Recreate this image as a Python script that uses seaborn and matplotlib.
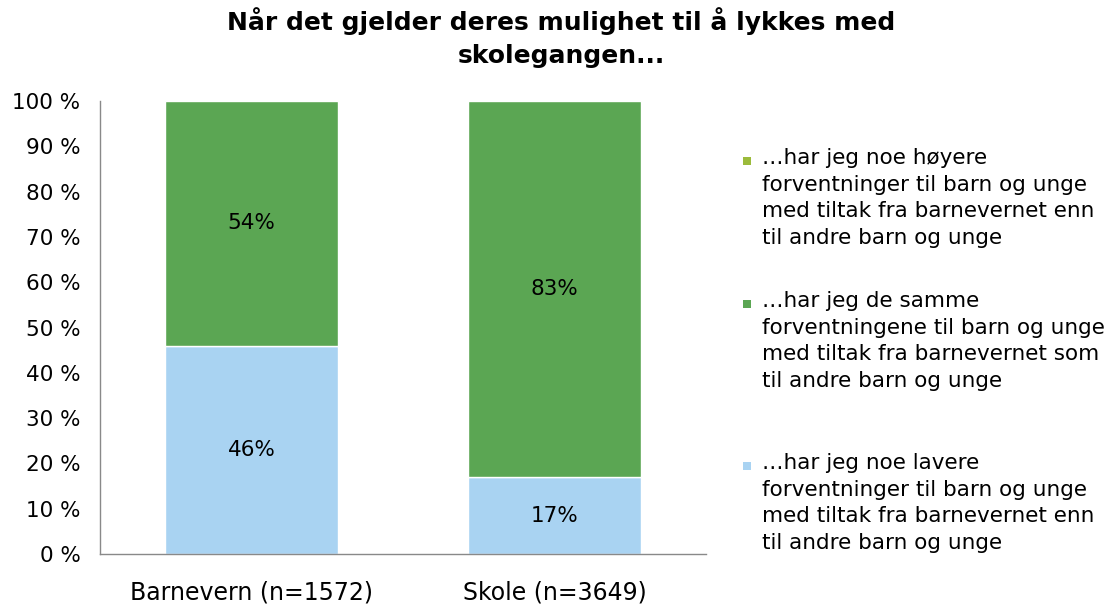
import matplotlib
matplotlib.use("Agg")
import matplotlib.pyplot as plt
import seaborn as sns
import pandas as pd
import numpy as np
from matplotlib.patches import Rectangle

# Data
categories = ["Barnevern (n=1572)", "Skole (n=3649)"]
lavere = [46, 17]
samme = [54, 83]
hoyere = [0, 0]

legend_labels = [
    "…har jeg noe høyere\nforventninger til barn og unge\nmed tiltak fra barnevernet enn\ntil andre barn og unge",
    "…har jeg de samme\nforventningene til barn og unge\nmed tiltak fra barnevernet som\ntil andre barn og unge",
    "…har jeg noe lavere\nforventninger til barn og unge\nmed tiltak fra barnevernet enn\ntil andre barn og unge",
]
col_hoyere = "#9BBB3B"
col_samme = "#5BA653"
col_lavere = "#A9D3F2"

sns.set_style("white")
plt.rcParams["font.family"] = ["DejaVu Sans"]
plt.rcParams["text.color"] = "black"
plt.rcParams["xtick.color"] = "black"
plt.rcParams["ytick.color"] = "black"

df = pd.DataFrame({"kategori": categories, "lavere": lavere,
                   "samme": samme, "hoyere": hoyere})

fig = plt.figure(figsize=(11.14, 6.06), dpi=100)
ax = fig.add_axes([0.0898, 0.0858, 0.544, 0.7475])

width = 0.57
sns.barplot(data=df, x="kategori", y="lavere", color=col_lavere, width=width,
            edgecolor="white", linewidth=1, saturation=1, ax=ax)
sns.barplot(data=df, x="kategori", y="samme", color=col_samme, width=width,
            bottom=df["lavere"], edgecolor="white", linewidth=1, saturation=1, ax=ax)

# value labels centred in each segment
base = np.array(lavere)
for i in range(len(categories)):
    ax.text(i, lavere[i] / 2, f"{lavere[i]}%", ha="center", va="center", fontsize=15.5)
    ax.text(i, base[i] + samme[i] / 2, f"{samme[i]}%", ha="center", va="center", fontsize=15.5)

ax.set_ylim(0, 100)
ax.set_xlim(-0.5, 1.5)
ax.set_yticks(range(0, 101, 10))
ax.set_yticklabels([f"{v} %" for v in range(0, 101, 10)], fontsize=15.5)
ax.tick_params(axis="x", labelsize=17, pad=19, length=0)
ax.tick_params(axis="y", pad=14, length=0)
ax.set_xlabel("")
ax.set_ylabel("")
for s in ["top", "right"]:
    ax.spines[s].set_visible(False)
for s in ["left", "bottom"]:
    ax.spines[s].set_color("#898989")
    ax.spines[s].set_linewidth(1)

fig.suptitle("Når det gjelder deres mulighet til å lykkes med\nskolegangen...",
             x=0.504, y=0.988, fontsize=18, fontweight="bold", linespacing=1.45)

# legend drawn as text blocks with square markers
legend_cols = [col_hoyere, col_samme, col_lavere]
legend_tops = [148, 291, 453]
for lab, col, top in zip(legend_labels, legend_cols, legend_tops):
    yf = 1 - top / 606
    fig.text(762 / 1114, yf, lab, ha="left", va="top", fontsize=15.5, linespacing=1.42)
    fig.patches.append(Rectangle((743 / 1114, 1 - (top + 17) / 606), 8 / 1114, 8 / 606,
                                 transform=fig.transFigure, facecolor=col, edgecolor="none"))

fig.savefig("out.png", dpi=100)
